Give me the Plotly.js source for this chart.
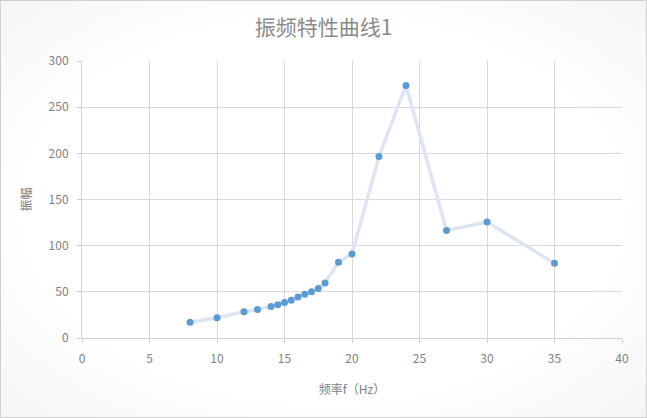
<!DOCTYPE html>
<html><head><meta charset="utf-8">
<script src="https://cdn.plot.ly/plotly-3.0.1.min.js"></script>
<style>
html,body{margin:0;padding:0;}
#wrap{width:647px;height:418px;box-sizing:border-box;border:1px solid #d0d0d0;
background:radial-gradient(ellipse at center,#ffffff 65%,#f5f5f5 100%);}
#chart{width:645px;height:416px;}
</style></head>
<body><div id="wrap"><div id="chart"></div></div>
<script>
const freq = [8, 10, 12, 13, 14, 14.5, 15, 15.5, 16, 16.5, 17, 17.5, 18, 19, 20, 22, 24, 27, 30, 35];
const amp  = [17, 22, 28.5, 31, 34, 36, 38.5, 41, 44.5, 47.5, 50, 53.5, 59.5, 82, 91, 196.5, 273.5, 116.5, 125.5, 81];
const xTicks = [0, 5, 10, 15, 20, 25, 30, 35, 40];
const yTicks = [0, 50, 100, 150, 200, 250, 300];
const titleText = "振频特性曲线1";
const xTitle = "频率f（Hz）";
const yTitle = "振幅";

const font = "'Noto Sans CJK SC', 'Noto Sans', sans-serif";
Plotly.newPlot('chart', [{
  x: freq, y: amp, type: 'scatter', mode: 'lines+markers',
  line: {color: '#dce6f2', width: 3.5},
  marker: {color: '#5b9bd5', size: 7}
}], {
  width: 645, height: 416,
  margin: {l: 81, r: 24, t: 60, b: 79},
  paper_bgcolor: 'rgba(0,0,0,0)', plot_bgcolor: 'rgba(0,0,0,0)',
  title: {text: titleText, x: 0.5, xanchor: 'center', y: 0.935, yanchor: 'middle',
          font: {family: font, size: 21, color: '#8a8a8a'}},
  xaxis: {range: [0, 40], tickvals: xTicks, ticktext: xTicks.map(String),
          showgrid: true, gridcolor: '#d9d9d9', zeroline: false,
          showline: true, linecolor: '#d0d0d0', ticks: 'outside', ticklen: 4, tickcolor: '#d0d0d0',
          ticklabelstandoff: 6,
          tickfont: {family: font, size: 12, color: '#808080'},
          title: {text: xTitle, font: {family: font, size: 12, color: '#808080'}, standoff: 20}},
  yaxis: {range: [0, 300], tickvals: yTicks, ticktext: yTicks.map(String),
          showgrid: true, gridcolor: '#d9d9d9', zeroline: false,
          showline: true, linecolor: '#d0d0d0', ticks: 'outside', ticklen: 4, tickcolor: '#d0d0d0',
          ticklabelstandoff: 6,
          tickfont: {family: font, size: 12, color: '#808080'},
          title: {text: yTitle, font: {family: font, size: 12, color: '#808080'}, standoff: 14}},
  showlegend: false,
  font: {family: font}
}, {displayModeBar: false, staticPlot: true});
</script></body></html>
